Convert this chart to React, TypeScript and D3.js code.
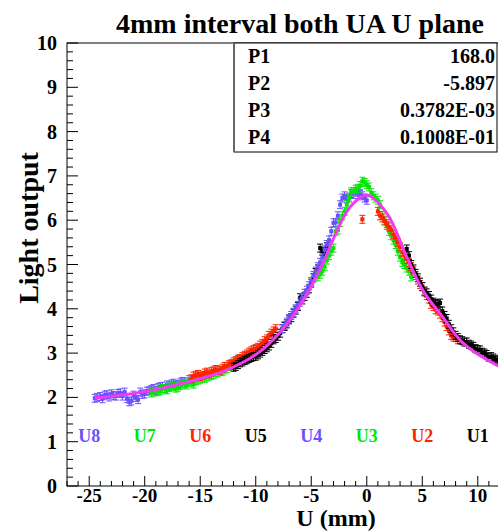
import React from 'react';
import * as d3 from 'd3';

const W = 498;
const H = 531;
const TITLE = '4mm interval both UA U plane';
const X_LABEL = 'U (mm)';
const Y_LABEL = 'Light output';
const xTicks = [-25, -20, -15, -10, -5, 0, 5, 10];
const yTicks = [0, 1, 2, 3, 4, 5, 6, 7, 8, 9, 10];
const statNames = ['P1', 'P2', 'P3', 'P4'];
const statValues = ['168.0', '-5.897', '0.3782E-03', '0.1008E-01'];
const stripLabels = ['U8', 'U7', 'U6', 'U5', 'U4', 'U3', 'U2', 'U1'];
const stripLabelX = [-25, -20, -15, -10, -5, 0, 5, 10];
const stripColors = ['#6a50ff', '#00e800', '#ff2200', '#000000', '#6a50ff', '#00e800', '#ff2200', '#000000'];

const u8X = [-24.5, -24.0, -23.6, -23.2, -22.8, -22.4, -22.0, -21.6, -21.2, -20.8, -20.4, -20.0, -19.6, -19.2, -18.8, -18.4, -18.0, -17.6, -17.2, -16.8, -16.4, -16.0, -15.6, -15.2,
  -24.3, -23.8, -23.4, -23.0, -22.6, -22.2, -21.8, -21.4, -21.0, -20.6, -20.2, -19.8, -19.4, -19.0, -18.6, -18.2, -17.8, -17.4, -17.0, -16.6];
const u8Y = [1.98, 2.02, 2.05, 2.01, 2.04, 2.09, 2.03, 1.97, 1.92, 2.0, 2.12, 2.08, 2.15, 2.2, 2.22, 2.25, 2.28, 2.3, 2.27, 2.33, 2.35, 2.4, 2.38, 2.45,
  2.0, 1.97, 2.06, 2.08, 2.03, 2.1, 2.12, 1.9, 2.05, 1.95, 2.07, 2.14, 2.18, 2.16, 2.24, 2.2, 2.26, 2.32, 2.29, 2.36];
const u7X = [-19.4, -19.0, -18.6, -18.2, -17.8, -17.4, -17.0, -16.6, -16.2, -15.8, -15.4, -15.0, -14.6, -14.2, -13.8, -13.4, -13.0, -12.6, -12.2, -11.8, -11.4, -11.0,
  -19.2, -18.8, -18.4, -18.0, -17.6, -17.2, -16.8, -16.4, -16.0, -15.6, -15.2, -14.8, -14.4, -14.0, -13.6, -13.2, -12.8, -12.4, -12.0, -11.6];
const u7Y = [2.1, 2.14, 2.16, 2.19, 2.22, 2.24, 2.23, 2.3, 2.28, 2.33, 2.37, 2.41, 2.43, 2.48, 2.52, 2.55, 2.58, 2.65, 2.72, 2.8, 2.84, 2.88,
  2.12, 2.13, 2.2, 2.17, 2.25, 2.21, 2.27, 2.31, 2.35, 2.3, 2.39, 2.44, 2.46, 2.5, 2.56, 2.6, 2.62, 2.7, 2.75, 2.86];
const u6X = [-15.8, -15.4, -15.0, -14.6, -14.2, -13.8, -13.4, -13.0, -12.6, -12.2, -11.8, -11.4, -11.0, -10.6, -10.2, -9.8, -9.4, -9.0, -8.6, -8.2,
  -15.6, -15.2, -14.8, -14.4, -14.0, -13.6, -13.2, -12.8, -12.4, -12.0, -11.6, -11.2, -10.8, -10.4, -10.0, -9.6, -9.2, -8.8, -8.4];
const u6Y = [2.42, 2.5, 2.47, 2.55, 2.53, 2.6, 2.62, 2.66, 2.7, 2.76, 2.83, 2.88, 2.95, 3.02, 3.08, 3.13, 3.22, 3.32, 3.45, 3.55,
  2.48, 2.52, 2.5, 2.57, 2.58, 2.63, 2.6, 2.7, 2.74, 2.8, 2.86, 2.92, 2.98, 3.05, 3.1, 3.18, 3.28, 3.4, 3.5];
const u5X = [-12.0, -11.6, -11.2, -10.8, -10.4, -10.0, -9.6, -9.2, -8.8, -8.4, -8.0, -7.6, -7.2, -6.8, -6.4, -6.0, -5.6, -5.2, -4.8, -4.4, -4.0, -3.6,
  -11.8, -11.4, -11.0, -10.6, -10.2, -9.8, -9.4, -9.0, -8.6, -8.2, -7.8, -7.4, -7.0, -6.6, -6.2, -5.8, -5.4, -5.0, -4.6, -4.2, -3.8];
const u5Y = [2.68, 2.74, 2.8, 2.85, 2.9, 2.93, 3.0, 3.08, 3.16, 3.3, 3.38, 3.55, 3.66, 3.8, 3.97, 4.25, 4.28, 4.45, 4.7, 4.9, 5.3, 5.4,
  2.7, 2.78, 2.83, 2.88, 2.92, 2.96, 3.04, 3.12, 3.22, 3.33, 3.45, 3.6, 3.75, 3.9, 4.05, 4.2, 4.35, 4.58, 4.82, 5.37, 5.25];
const u4X = [-7.6, -7.2, -6.8, -6.4, -6.0, -5.6, -5.2, -4.8, -4.4, -4.0, -3.6, -3.2, -2.8, -2.4, -2.0, -1.6, -1.2, -0.8, -0.4, 0.0,
  -7.4, -7.0, -6.6, -6.2, -5.8, -5.4, -5.0, -4.6, -4.2, -3.8, -3.4, -3.0, -2.6, -2.2, -1.8, -1.4, -1.0, -0.6, -0.2];
const u4Y = [3.55, 3.7, 3.85, 4.0, 4.15, 4.35, 4.52, 4.75, 4.95, 5.15, 5.45, 5.75, 5.95, 6.35, 6.55, 6.52, 6.58, 6.62, 6.55, 6.45,
  3.62, 3.78, 3.92, 4.08, 4.25, 4.42, 4.62, 4.85, 5.05, 5.33, 5.55, 5.94, 6.1, 6.5, 6.48, 6.6, 6.65, 6.58, 6.5];
const u3X = [-4.4, -4.0, -3.6, -3.2, -2.8, -2.4, -2.0, -1.6, -1.2, -0.8, -0.4, 0.0, 0.4, 0.8, 1.2, 1.6, 2.0, 2.4, 2.8, 3.2, 3.6, 4.0,
  -4.2, -3.8, -3.4, -3.0, -2.6, -2.2, -1.8, -1.4, -1.0, -0.6, -0.2, 0.2, 0.6, 1.0, 1.4, 1.8, 2.2, 2.6, 3.0, 3.4, 3.8];
const u3Y = [4.72, 4.85, 5.1, 5.3, 5.75, 5.95, 6.2, 6.5, 6.65, 6.72, 6.88, 6.8, 6.62, 6.5, 6.35, 6.0, 5.75, 5.55, 5.3, 5.05, 4.92, 4.72,
  4.78, 4.95, 5.2, 5.37, 5.78, 6.1, 6.35, 6.64, 6.7, 6.78, 6.85, 6.75, 6.55, 6.45, 6.1, 5.88, 5.65, 5.45, 5.17, 5.0, 4.85];
const u2X = [-0.4, 1.2, 1.6, 2.0, 2.4, 2.8, 3.2, 3.6, 4.0, 4.4, 4.8, 5.2, 5.6, 6.0, 6.4, 6.8, 7.2, 7.6, 8.0,
  1.0, 1.4, 1.8, 2.2, 2.6, 3.0, 3.4, 3.8, 4.2, 4.6, 5.0, 5.4, 5.8, 6.2, 6.6, 7.0, 7.4, 7.8, 8.2];
const u2Y = [6.02, 6.1, 5.98, 5.85, 5.68, 5.5, 5.28, 5.12, 4.95, 4.75, 4.55, 4.38, 4.22, 4.05, 3.95, 3.8, 3.6, 3.4, 3.35,
  6.2, 6.05, 5.92, 5.78, 5.6, 5.4, 5.2, 5.05, 4.87, 4.65, 4.5, 4.3, 4.1, 3.98, 3.88, 3.7, 3.5, 3.36, 3.3];
const u1X = [3.6, 4.0, 4.4, 4.8, 5.2, 5.6, 6.0, 6.4, 6.8, 7.2, 7.6, 8.0, 8.4, 8.8, 9.2, 9.6, 10.0, 10.4, 10.8, 11.2, 11.6, 12.0,
  3.8, 4.2, 4.6, 5.0, 5.4, 5.8, 6.2, 6.6, 7.0, 7.4, 7.8, 8.2, 8.6, 9.0, 9.4, 9.8, 10.2, 10.6, 11.0, 11.4, 11.8];
const u1Y = [5.35, 5.0, 4.8, 4.6, 4.4, 4.3, 4.15, 4.1, 3.95, 3.78, 3.55, 3.4, 3.3, 3.25, 3.2, 3.15, 3.08, 3.02, 2.97, 2.92, 2.86, 2.8,
  5.2, 4.9, 4.7, 4.5, 4.36, 4.22, 4.12, 4.13, 3.85, 3.65, 3.48, 3.35, 3.28, 3.25, 3.18, 3.1, 3.07, 3.0, 2.91, 2.89, 2.83];

const fitX = [-24.5, -24, -20, -16.4, -12.8, -9.8, -7.7, -5.9, -3.8, -3.06, -1.5, 0, 1.8, 3.6, 5.05, 6.85, 8.65, 11.7, 12];
const fitY = [1.99, 2.0, 2.13, 2.33, 2.6, 3.0, 3.5, 4.12, 5.1, 5.55, 6.3, 6.57, 6.16, 5.17, 4.42, 3.81, 3.23, 2.73, 2.7];

const seriesX = [u8X, u7X, u6X, u5X, u4X, u3X, u2X, u1X];
const seriesY = [u8Y, u7Y, u6Y, u5Y, u4Y, u3Y, u2Y, u1Y];
const ERR = 0.09;

const FONT = '"Liberation Serif", "Times New Roman", serif';

export default function App() {
  const left = 67, top = 43, bottom = 486, right = 500;
  const x = d3.scaleLinear().domain([-27, 12]).range([left, right]);
  const y = d3.scaleLinear().domain([0, 10]).range([bottom, top]);
  const line = d3.line<number>().x((_, i) => x(fitX[i])).y((d) => y(d)).curve(d3.curveCatmullRom.alpha(0.5));
  const xMinor = d3.range(-27, 12.01, 1);
  const yMinor = d3.range(0, 10.001, 0.2);

  return (
    <svg width={W} height={H} style={{ position: 'absolute', left: 0, top: 0, background: '#fff' }} fontFamily={FONT} fontWeight="bold">
      <defs>
        <clipPath id="plot">
          <rect x={left} y={top} width={right - left} height={bottom - top} />
        </clipPath>
      </defs>
      <text x={300} y={33} fontSize={28} textAnchor="middle">{TITLE}</text>
      <rect x={left} y={top} width={right - left} height={bottom - top} fill="none" stroke="#000" strokeWidth={1} />
      {yMinor.map((v, i) => {
        const major = Math.abs(v - Math.round(v)) < 1e-6;
        return <line key={'ym' + i} x1={left} x2={left + (major ? 11 : 6)} y1={y(v)} y2={y(v)} stroke="#000" strokeWidth={1} />;
      })}
      {yTicks.map((v) => (
        <text key={'yt' + v} x={57} y={y(v) + 7} fontSize={20} textAnchor="end">{v}</text>
      ))}
      {xMinor.map((v, i) => {
        const major = Math.abs(v % 5) < 1e-6;
        return <line key={'xm' + i} x1={x(v)} x2={x(v)} y1={bottom} y2={bottom - (major ? 10 : 5)} stroke="#000" strokeWidth={1} />;
      })}
      {xTicks.map((v) => (
        <text key={'xt' + v} x={x(v)} y={502} fontSize={19} textAnchor="middle">{v}</text>
      ))}
      <text x={336} y={526} fontSize={24} textAnchor="middle">{X_LABEL}</text>
      <text transform={`translate(38,228) rotate(-90)`} fontSize={28} textAnchor="middle">{Y_LABEL}</text>
      {stripLabels.map((s, i) => (
        <text key={s} x={x(stripLabelX[i])} y={y(1.0)} fontSize={18} textAnchor="middle" fill={stripColors[i]}>{s}</text>
      ))}
      <g clipPath="url(#plot)">
        {seriesX.map((xs, si) => (
          <g key={'s' + si} stroke={stripColors[si]} fill={stripColors[si]}>
            {xs.map((xv, i) => {
              const cx = x(xv), cy = y(seriesY[si][i]);
              const y1 = y(seriesY[si][i] + ERR), y2 = y(seriesY[si][i] - ERR);
              return (
                <g key={i}>
                  <line x1={cx} x2={cx} y1={y1} y2={y2} strokeWidth={1} />
                  <line x1={cx - 3} x2={cx + 3} y1={y1} y2={y1} strokeWidth={1} />
                  <line x1={cx - 3} x2={cx + 3} y1={y2} y2={y2} strokeWidth={1} />
                  <rect x={cx - 2} y={cy - 2} width={4} height={4} stroke="none" />
                </g>
              );
            })}
          </g>
        ))}
        <path d={line(fitY) || ''} fill="none" stroke="#f03cf0" strokeWidth={3} />
      </g>
      <rect x={234} y={top} width={263} height={109} fill="#fff" stroke="#000" strokeWidth={1} />
      <line x1={234} x2={234} y1={top} y2={top + 109} stroke="#666" strokeWidth={2} />
      {statNames.map((n, i) => (
        <g key={n}>
          <text x={248} y={63 + i * 27} fontSize={20}>{n}</text>
          <text x={495} y={63 + i * 27} fontSize={20} textAnchor="end">{statValues[i]}</text>
        </g>
      ))}
    </svg>
  );
}
